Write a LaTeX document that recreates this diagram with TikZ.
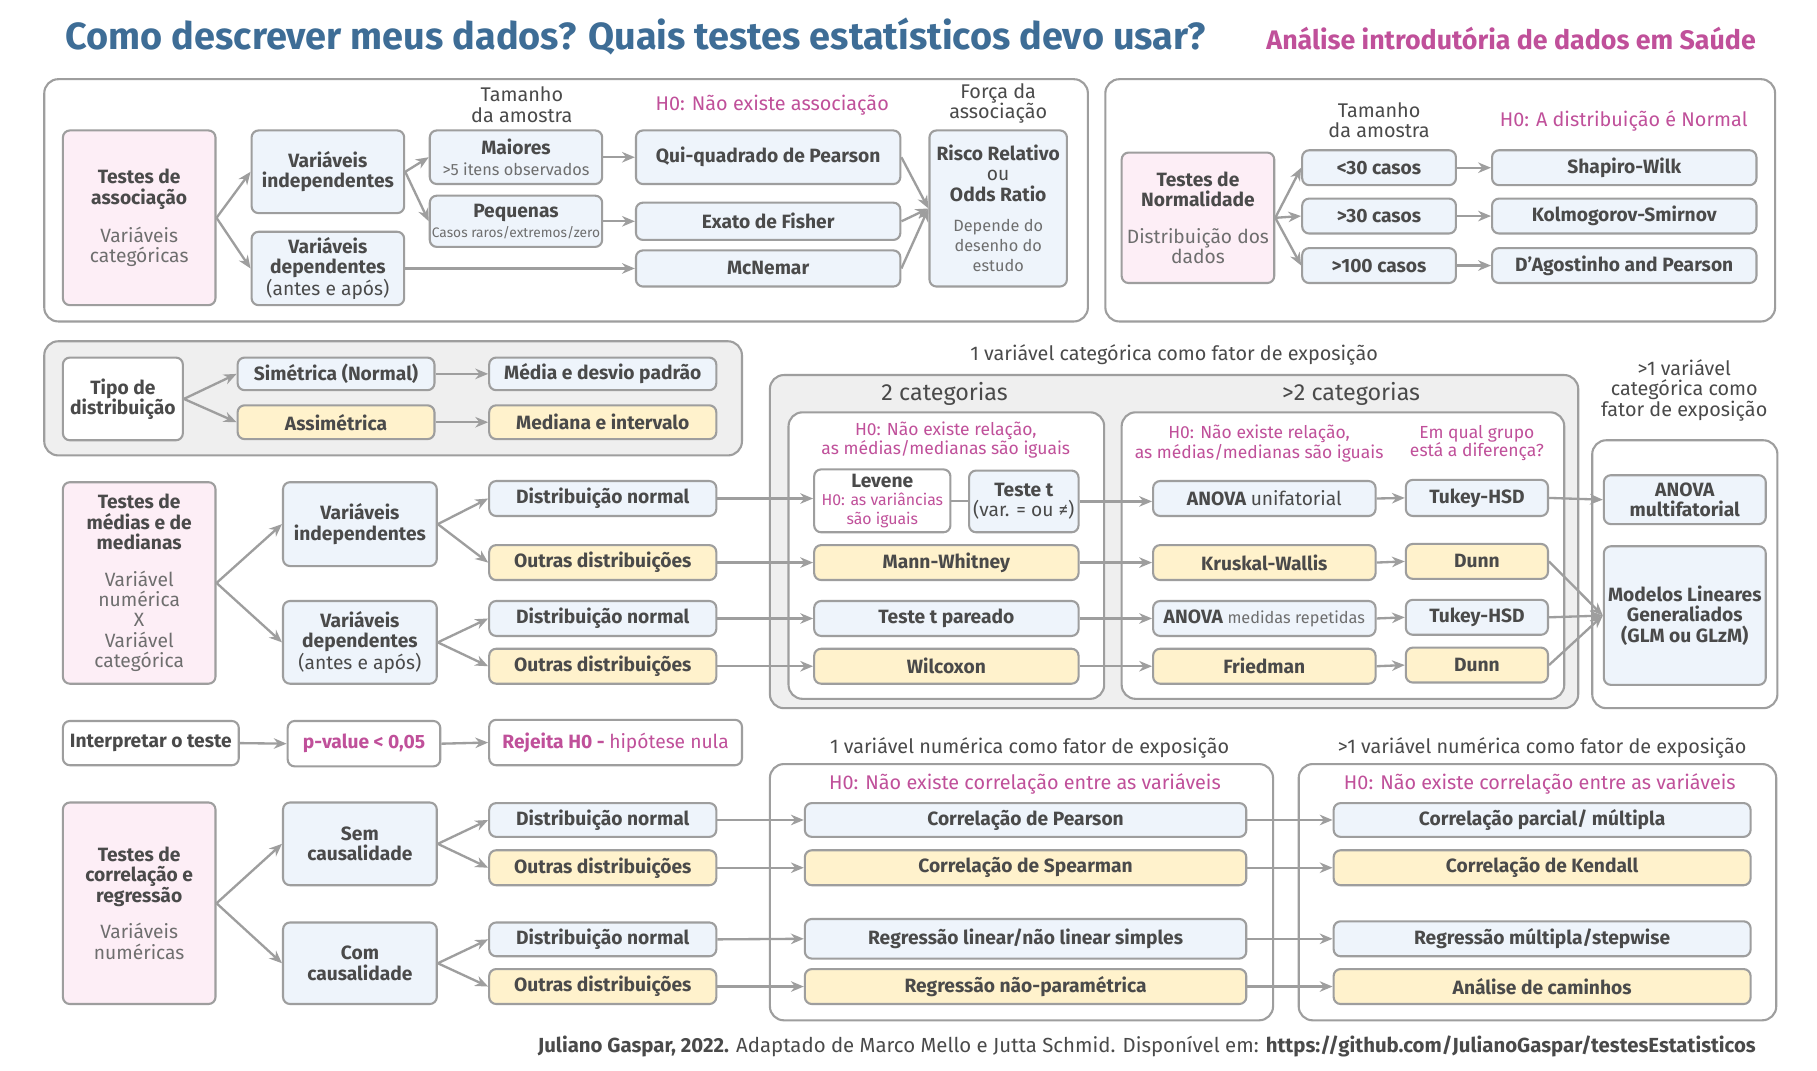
\documentclass[tikz,border=0pt]{standalone}
\usepackage{fontspec}
\setmainfont{Fira Sans}
\usetikzlibrary{arrows.meta}

\definecolor{txtdark}{HTML}{4A4A4A}
\definecolor{txtlight}{HTML}{6E6E6E}
\definecolor{titleblue}{HTML}{3E6D96}
\definecolor{hzpink}{HTML}{C0509A}
\definecolor{bordergray}{HTML}{9E9E9E}
\definecolor{fillpink}{HTML}{FDEEF6}
\definecolor{fillblue}{HTML}{EEF4FB}
\definecolor{fillyellow}{HTML}{FFF2CC}
\definecolor{panelgray}{HTML}{EFEFEF}

\def\lighttxt{\mdseries\color{txtlight}}
\def\smalllight{\mdseries\color{txtlight}\fontsize{14}{15}\selectfont}

\tikzset{
	box/.style={draw=bordergray, line width=1.8pt, rounded corners=6pt, align=center, inner sep=1pt, text=txtdark, font=\fontsize{16.5}{17.5}\selectfont\bfseries},
	pinkbox/.style={box, fill=fillpink},
	bluebox/.style={box, fill=fillblue},
	yellowbox/.style={box, fill=fillyellow},
	whitebox/.style={box, fill=white},
	sz/.style 2 args={minimum width=#1, minimum height=#2},
	panel/.style={draw=bordergray, line width=1.8pt, rounded corners=12pt},
	graypanel/.style={panel, fill=panelgray},
	lbl/.style={align=center, text=txtdark, font=\fontsize{17}{17.5}\selectfont},
	hzero/.style={lbl, text=hzpink},
	hsmall/.style={hzero, font=\fontsize{15}{15.5}\selectfont},
	arr/.style={draw=bordergray, line width=2pt, -{Stealth[length=11pt, width=9pt, inset=3.5pt]}},
	lnk/.style={draw=bordergray, line width=2pt},
}

\begin{document}
\begin{tikzpicture}[x=1pt, y=-1pt]
		\fill[white] (0,0) rectangle (1560,919.5);
		\useasboundingbox (0,0) rectangle (1560,919.5);
		
		% title
		\node[anchor=west, text=titleblue, font=\fontsize{32.5}{36}\selectfont\bfseries] (title) at (53,31) {Como descrever meus dados? Quais testes estatísticos devo usar?};
		\node[anchor=east, text=hzpink, font=\fontsize{23}{26}\selectfont\bfseries] (subtitle) at (1511,33) {Análise introdutória de dados em Saúde};
		
		% panels
		\draw[panel] (38,68) rectangle (934,276);
		\draw[panel] (949,68) rectangle (1524,276);
		\draw[graypanel] (38,293) rectangle (637,391);
		\draw[graypanel] (661,322) rectangle (1355,608);
		\draw[panel, fill=white] (677,354) rectangle (948,600);
		\draw[panel, fill=white] (963,354) rectangle (1343,600);
		\draw[panel] (1367,378) rectangle (1526,608);
		\draw[panel] (661,656) rectangle (1093,876);
		\draw[panel] (1115,656) rectangle (1525,876);
		
		% associacao
		\node[pinkbox, sz={131pt}{150pt}] (tassoc) at (119.5,187) {Testes de\\associação\\[14pt]{\lighttxt Variáveis}\\{\lighttxt categóricas}};
		\node[bluebox, sz={131pt}{71pt}] (vind1) at (281.5,147.5) {Variáveis\\independentes};
		\node[bluebox, sz={131pt}{63pt}] (vdep1) at (281.5,230.5) {Variáveis\\dependentes\\{\mdseries (antes e após)}};
		\node[lbl] (tam1) at (448,90) {Tamanho\\da amostra};
		\node[bluebox, sz={148pt}{46pt}] (maiores) at (443,135) {Maiores\\{\smalllight >5 itens observados}};
		\node[bluebox, sz={148pt}{44pt}] (pequenas) at (443,190) {Pequenas\\{\lighttxt\fontsize{11.8}{13}\selectfont Casos raros/extremos/zero}};
		\node[hzero] (hassoc) at (663,90) {H0: Não existe associação};
		\node[bluebox, sz={227pt}{46pt}] (qui) at (659.5,135) {Qui-quadrado de Pearson};
		\node[bluebox, sz={227pt}{32pt}] (fisher) at (659.5,190) {Exato de Fisher};
		\node[bluebox, sz={227pt}{31pt}] (mcnemar) at (659.5,230.5) {McNemar};
		\node[lbl] (forca) at (857,89) {Força da\\associação};
		\node[bluebox, sz={118pt}{134pt}] (risco) at (857,179) {Risco Relativo\\{\mdseries ou}\\Odds Ratio\\[8pt]{\smalllight Depende do}\\{\smalllight desenho do}\\{\smalllight estudo}};
		
		\draw[arr] (tassoc.east) -- (vind1.west);
		\draw[arr] (tassoc.east) -- (vdep1.west);
		\draw[arr] (vind1.east) -- (maiores.west);
		\draw[arr] (vind1.east) -- (pequenas.west);
		\draw[arr] (maiores.east) -- (qui.west);
		\draw[arr] (pequenas.east) -- (fisher.west);
		\draw[arr] (vdep1.east) -- (mcnemar.west);
		\foreach \src in {qui, fisher, mcnemar}
			\draw[arr] (\src.east) -- (risco.west);
		
		% normalidade
		\node[pinkbox, sz={131pt}{112pt}] (tnorm) at (1028.5,187) {Testes de\\Normalidade\\[14pt]{\lighttxt Distribuição dos}\\{\lighttxt dados}};
		\node[lbl] (tam2) at (1184,103) {Tamanho\\da amostra};
		\node[hzero] (hnorm) at (1394,104) {H0: A distribuição é Normal};
		\foreach \nm/\yy/\txt in {ca/144/{<30 casos}, cb/185.5/{>30 casos}, cc/228/{>100 casos}}
			\node[bluebox, sz={132pt}{30pt}] (\nm) at (1184,\yy) {\txt};
		\foreach \nm/\yy/\txt in {sw/144/{Shapiro-Wilk}, ks/185.5/{Kolmogorov-Smirnov}, dp/228/{D'Agostinho and Pearson}}
			\node[bluebox, sz={227pt}{30pt}] (\nm) at (1394.5,\yy) {\txt};
		\foreach \src/\dst in {ca/sw, cb/ks, cc/dp} {
			\draw[arr] (tnorm.east) -- (\src.west);
			\draw[arr] (\src.east) -- (\dst.west);
		}
		
		% tipo de distribuicao
		\node[whitebox, sz={103pt}{71pt}] (tipo) at (105.5,342.5) {Tipo de\\distribuição};
		\node[bluebox, sz={169pt}{28pt}] (sim) at (288.5,321) {Simétrica (Normal)};
		\node[yellowbox, sz={169pt}{29pt}] (assim) at (288.5,362.5) {Assimétrica};
		\node[bluebox, sz={195pt}{28pt}] (media) at (517.5,321) {Média e desvio padrão};
		\node[yellowbox, sz={195pt}{29pt}] (mediana) at (517.5,362.5) {Mediana e intervalo};
		\draw[arr] (tipo.east) -- (sim.west);
		\draw[arr] (tipo.east) -- (assim.west);
		\draw[arr] (sim.east) -- (media.west);
		\draw[arr] (assim.east) -- (mediana.west);
		
		% medias e medianas
		\node[pinkbox, sz={131pt}{173pt}] (tmed) at (119.5,500.5) {Testes de\\médias e de\\medianas\\[14pt]{\lighttxt Variável}\\{\lighttxt numérica}\\{\lighttxt X}\\{\lighttxt Variável}\\{\lighttxt categórica}};
		\node[bluebox, sz={132pt}{72pt}] (vind2) at (309,450) {Variáveis\\independentes};
		\node[bluebox, sz={132pt}{71pt}] (vdep2) at (309,551.5) {Variáveis\\dependentes\\{\mdseries (antes e após)}};
		\node[bluebox, sz={195pt}{30pt}] (dn1) at (517.5,428) {Distribuição normal};
		\node[yellowbox, sz={195pt}{30pt}] (od1) at (517.5,483) {Outras distribuições};
		\node[bluebox, sz={195pt}{30pt}] (dn2) at (517.5,531) {Distribuição normal};
		\node[yellowbox, sz={195pt}{30pt}] (od2) at (517.5,572) {Outras distribuições};
		
		\node[lbl] (fcat) at (1008,305) {1 variável categórica como fator de exposição};
		\node[lbl, font=\fontsize{20}{21}\selectfont] (cat2) at (811,338) {2 categorias};
		\node[lbl, font=\fontsize{20}{21}\selectfont] (catn) at (1160,338) {>2 categorias};
		\node[hsmall] (hrel1) at (812,378) {H0: Não existe relação,\\as médias/medianas são iguais};
		\node[hsmall] (hrel2) at (1081,381) {H0: Não existe relação,\\as médias/medianas são iguais};
		\node[hsmall] (hgrupo) at (1268,380) {Em qual grupo\\está a diferença?};
		
		\node[whitebox, sz={117pt}{54pt}, font=\fontsize{16.5}{16}\selectfont\bfseries] (levene) at (757.5,430) {Levene\\{\mdseries\color{hzpink}\fontsize{13.6}{16}\selectfont H0: as variâncias}\\{\mdseries\color{hzpink}\fontsize{13.6}{16}\selectfont são iguais}};
		\node[bluebox, sz={94pt}{53pt}] (testet) at (879,430.5) {Teste t\\{\mdseries (var. = ou ≠)}};
		\node[yellowbox, sz={227pt}{30pt}] (mann) at (812.5,483) {Mann-Whitney};
		\node[bluebox, sz={227pt}{30pt}] (pareado) at (812.5,531) {Teste t pareado};
		\node[yellowbox, sz={227pt}{30pt}] (wilcox) at (812.5,572) {Wilcoxon};
		
		\node[bluebox, sz={191pt}{30pt}] (anova1) at (1085.5,428) {ANOVA {\mdseries unifatorial}};
		\node[yellowbox, sz={191pt}{30pt}] (kw) at (1085.5,483) {Kruskal-Wallis};
		\node[bluebox, sz={191pt}{30pt}] (anova2) at (1085.5,531) {ANOVA {\smalllight medidas repetidas}};
		\node[yellowbox, sz={191pt}{30pt}] (friedman) at (1085.5,572) {Friedman};
		\node[bluebox, sz={122pt}{31pt}] (tukey1) at (1268,427.5) {Tukey-HSD};
		\node[yellowbox, sz={122pt}{30pt}] (dunn1) at (1268,482) {Dunn};
		\node[bluebox, sz={122pt}{30pt}] (tukey2) at (1268,530) {Tukey-HSD};
		\node[yellowbox, sz={122pt}{30pt}] (dunn2) at (1268,571) {Dunn};
		
		\node[lbl] (fcatn) at (1446,335) {>1 variável\\categórica como\\fator de exposição};
		\node[bluebox, sz={139pt}{42pt}] (anovam) at (1446.5,429) {ANOVA\\multifatorial};
		\node[bluebox, sz={139pt}{119pt}] (glm) at (1446.5,528.5) {Modelos Lineares\\Generaliados\\(GLM ou GLzM)};
		
		\draw[arr] (tmed.east) -- (vind2.west);
		\draw[arr] (tmed.east) -- (vdep2.west);
		\draw[arr] (vind2.east) -- (dn1.west);
		\draw[arr] (vind2.east) -- (od1.west);
		\draw[arr] (vdep2.east) -- (dn2.west);
		\draw[arr] (vdep2.east) -- (od2.west);
		\draw[arr] (dn1.east) -- (dn1.east -| levene.west);
		\draw[lnk] (levene.east) -- (levene.east -| testet.west);
		\draw[arr] (testet.east) -- (testet.east -| anova1.west);
		\foreach \src/\dst in {od1/mann, mann/kw, kw/dunn1, dn2/pareado, pareado/anova2, anova2/tukey2, od2/wilcox, wilcox/friedman, friedman/dunn2, anova1/tukey1, tukey1/anovam}
			\draw[arr] (\src.east) -- (\dst.west);
		\foreach \src in {dunn1, tukey2, dunn2}
			\draw[arr] (\src.east) -- (glm.west);
		
		% interpretar
		\node[whitebox, sz={151pt}{38pt}] (interp) at (129.5,638) {Interpretar o teste};
		\node[whitebox, sz={131pt}{39pt}, text=hzpink] (pval) at (312.5,638.5) {p-value < 0,05};
		\node[whitebox, sz={217pt}{39pt}, text=hzpink] (rejeita) at (528.5,637.5) {Rejeita H0 - {\mdseries hipótese nula}};
		\draw[arr] (interp.east) -- (pval.west);
		\draw[arr] (pval.east) -- (rejeita.west);
		
		% correlacao e regressao
		\node[pinkbox, sz={131pt}{173pt}] (tcor) at (119.5,775.5) {Testes de\\correlação e\\regressão\\[14pt]{\lighttxt Variáveis}\\{\lighttxt numéricas}};
		\node[bluebox, sz={132pt}{71pt}] (sem) at (309,724.5) {Sem\\causalidade};
		\node[bluebox, sz={132pt}{70pt}] (com) at (309,827) {Com\\causalidade};
		\node[bluebox, sz={195pt}{29pt}] (dn3) at (517.5,704) {Distribuição normal};
		\node[yellowbox, sz={195pt}{30pt}] (od3) at (517.5,745) {Outras distribuições};
		\node[bluebox, sz={195pt}{29pt}] (dn4) at (517.5,806.5) {Distribuição normal};
		\node[yellowbox, sz={195pt}{30pt}] (od4) at (517.5,847) {Outras distribuições};
		
		\node[lbl] (fnum) at (884,642) {1 variável numérica como fator de exposição};
		\node[lbl] (fnumn) at (1324,642) {>1 variável numérica como fator de exposição};
		\node[hzero] (hcor1) at (880,673) {H0: Não existe correlação entre as variáveis};
		\node[hzero] (hcor2) at (1322,673) {H0: Não existe correlação entre as variáveis};
		
		\node[bluebox, sz={379pt}{29pt}] (pearson) at (880.5,704) {Correlação de Pearson};
		\node[yellowbox, sz={379pt}{30pt}] (spearman) at (880.5,745) {Correlação de Spearman};
		\node[bluebox, sz={379pt}{34pt}] (reglin) at (880.5,806) {Regressão linear/não linear simples};
		\node[yellowbox, sz={379pt}{30pt}] (regnp) at (880.5,847) {Regressão não-paramétrica};
		\node[bluebox, sz={358pt}{29pt}] (parcial) at (1324,704) {Correlação parcial/ múltipla};
		\node[yellowbox, sz={358pt}{30pt}] (kendall) at (1324,745) {Correlação de Kendall};
		\node[bluebox, sz={358pt}{30pt}] (regmult) at (1324,806) {Regressão múltipla/stepwise};
		\node[yellowbox, sz={358pt}{30pt}] (caminhos) at (1324,847) {Análise de caminhos};
		
		\draw[arr] (tcor.east) -- (sem.west);
		\draw[arr] (tcor.east) -- (com.west);
		\draw[arr] (sem.east) -- (dn3.west);
		\draw[arr] (sem.east) -- (od3.west);
		\draw[arr] (com.east) -- (dn4.west);
		\draw[arr] (com.east) -- (od4.west);
		\foreach \src/\mid/\dst in {dn3/pearson/parcial, od3/spearman/kendall, dn4/reglin/regmult, od4/regnp/caminhos} {
			\draw[arr] (\src.east) -- (\mid.west);
			\draw[arr] (\mid.east) -- (\dst.west);
		}
		
		% footer
		\node[anchor=east, text=txtdark, font=\fontsize{17.5}{19}\selectfont] (footer) at (1511,898) {\textbf{Juliano Gaspar, 2022.} Adaptado de Marco Mello e Jutta Schmid. Disponível em: \textbf{https://github.com/JulianoGaspar/testesEstatisticos}};
\end{tikzpicture}
\end{document}
